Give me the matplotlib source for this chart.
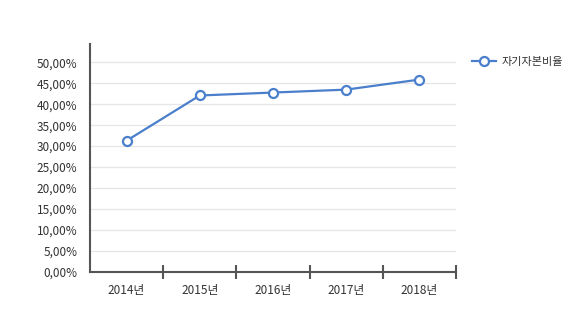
import matplotlib.pyplot as plt
from matplotlib.ticker import FuncFormatter, FixedLocator
from matplotlib.lines import Line2D

plt.rcParams['font.family'] = ['Noto Sans CJK KR', 'DejaVu Sans']

years = ['2014년', '2015년', '2016년', '2017년', '2018년']
ratio = [31.3, 42.1, 42.8, 43.5, 45.9]
series_name = '자기자본비율'

line_color = '#4a7fcc'
axis_color = '#555555'
text_color = '#333333'

fig = plt.figure(figsize=(5.67, 3.12), dpi=100)
ax = fig.add_axes([90 / 567, 40.3 / 312, 366 / 567, 227.7 / 312])

x = list(range(len(years)))
ax.plot(x, ratio, color=line_color, linewidth=1.6, marker='o', markersize=6.5,
        markerfacecolor='white', markeredgecolor=line_color, markeredgewidth=1.6,
        zorder=3, clip_on=False)

ax.set_xlim(-0.5, len(years) - 0.5)
ax.set_ylim(0, 54.4)

ax.yaxis.set_major_locator(FixedLocator([i * 5 for i in range(11)]))
ax.yaxis.set_major_formatter(FuncFormatter(lambda v, p: f'{v:.2f}'.replace('.', ',') + '%'))
ax.grid(axis='y', color='#e6e6e6', linewidth=0.9)
ax.set_axisbelow(True)

# band boundaries as ticks, labels at the band centres
ax.xaxis.set_major_locator(FixedLocator([i + 0.5 for i in range(len(years))]))
ax.xaxis.set_major_formatter(FuncFormatter(lambda v, p: ''))
ax.xaxis.set_minor_locator(FixedLocator(x))
ax.set_xticklabels(years, minor=True)
ax.tick_params(axis='x', which='major', direction='inout', length=10, width=1.5, color=axis_color)
ax.tick_params(axis='x', which='minor', length=0, pad=9, labelsize=8.5, labelcolor=text_color)
ax.tick_params(axis='y', length=0, pad=9, labelsize=8.5, labelcolor=text_color)

for side in ['top', 'right']:
    ax.spines[side].set_visible(False)
for side in ['left', 'bottom']:
    ax.spines[side].set_color(axis_color)
    ax.spines[side].set_linewidth(1.5)

handle = Line2D([], [], color=line_color, linewidth=1.6, marker='o', markersize=6.5,
                markerfacecolor='white', markeredgecolor=line_color, markeredgewidth=1.6)
fig.legend([handle], [series_name], loc='center left', bbox_to_anchor=(462 / 567, 1 - 62 / 312),
           frameon=False, fontsize=8, handlelength=2.2, handletextpad=0.5,
           labelcolor=text_color)

fig.savefig('out.png', dpi=100)
plt.close(fig)
